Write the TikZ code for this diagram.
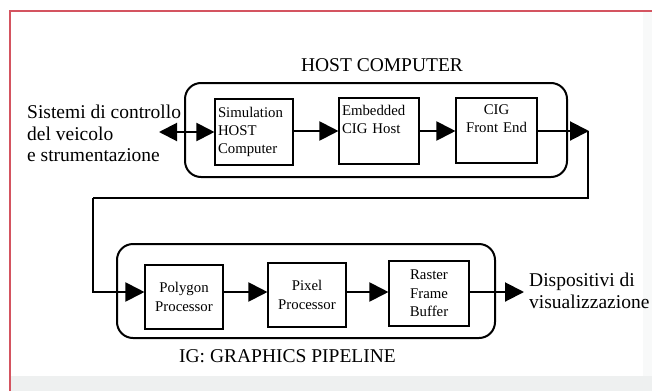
\documentclass[tikz,border=0pt]{standalone}
\usepackage{fontspec}
\setmainfont{Liberation Serif}
\usetikzlibrary{arrows.meta}
\definecolor{frameRed}{RGB}{212,84,96}
\definecolor{bandGrey}{RGB}{238,240,240}
\tikzset{
  outertext/.style={font=\fontsize{19.5}{21.5}\selectfont, inner sep=0pt},
  innerbox/.style={draw, line width=1.1pt, inner sep=3pt, font=\fontsize{14.8}{18.3}\selectfont},
  groupbox/.style={draw, line width=2pt, rounded corners=16pt},
  arr/.style={line width=2pt, -{Triangle[length=19pt,width=19pt]}},
  dblarr/.style={line width=2pt, {Triangle[length=18pt,width=18pt]}-{Triangle[length=18pt,width=18pt]}},
  redline/.style={draw=frameRed, line width=2pt}
}
\begin{document}
\begin{tikzpicture}[x=1pt,y=-1pt]
\useasboundingbox (0,0) rectangle (652,391);
\fill[white] (0,0) rectangle (652,391);
\fill[bandGrey] (10,376) rectangle (652,391);
\fill[bandGrey!40] (643,12) rectangle (652,376);
\draw[redline] (10,391) -- (10,11) -- (652,11);

\coordinate (ytop) at (0,131);
\coordinate (ybot) at (0,292);

% group boxes
\node[groupbox, minimum width=382pt, minimum height=94pt] (host) at (376,130) {};
\node[groupbox, minimum width=378pt, minimum height=94pt] (ig) at (306,291) {};

\node[outertext] (hostlbl) at (382,65) {HOST COMPUTER};
\node[outertext] (iglbl) at (287.5,356) {IG: GRAPHICS PIPELINE};

% top row
\node[innerbox, text width=72pt, align=left, minimum height=66pt] (b1) at (254,132) {Simulation\\HOST\\Computer};
\node[innerbox, text width=74pt, align=left, minimum height=66pt] (b2) at (379,131) {Embedded\\CIG Host\\\strut};
\node[innerbox, text width=75pt, align=center, minimum height=65pt] (b3) at (496.5,130.5) {CIG\\Front End\\\strut};

% bottom row
\node[innerbox, text width=72pt, align=center, minimum height=64pt] (p1) at (184,297) {Polygon\\Processor};
\node[innerbox, text width=72pt, align=center, minimum height=64pt] (p2) at (307,295) {Pixel\\Processor};
\node[innerbox, text width=74pt, align=center, minimum height=65pt] (p3) at (429,293.5) {Raster\\Frame\\Buffer};

% outer labels
\node[outertext, anchor=west, align=left] (sys) at (27,133.5) {Sistemi di controllo\\del veicolo\\e strumentazione};
\node[outertext, anchor=west, align=left] (disp) at (529,291) {Dispositivi di\\visualizzazione};

\coordinate (sysTip) at (159,132);
\coordinate (fbTip) at (589,131);
\coordinate (fbLeft) at (93,198);
\coordinate (outTip) at (524,292);

% connectors
\draw[dblarr] (sysTip) -- (b1.west |- 0,132);
\draw[arr] (b1.east |- ytop) -- (b2.west |- ytop);
\draw[arr] (b2.east |- ytop) -- (b3.west |- ytop);
\draw[arr] (b3.east |- ytop) -- (fbTip);
\draw[line width=2pt] (588,131) |- (fbLeft);
\draw[arr] (fbLeft) |- (p1.west |- ybot);
\draw[arr] (p1.east |- ybot) -- (p2.west |- ybot);
\draw[arr] (p2.east |- ybot) -- (p3.west |- ybot);
\draw[arr] (p3.east |- ybot) -- (outTip);
\end{tikzpicture}
\end{document}
